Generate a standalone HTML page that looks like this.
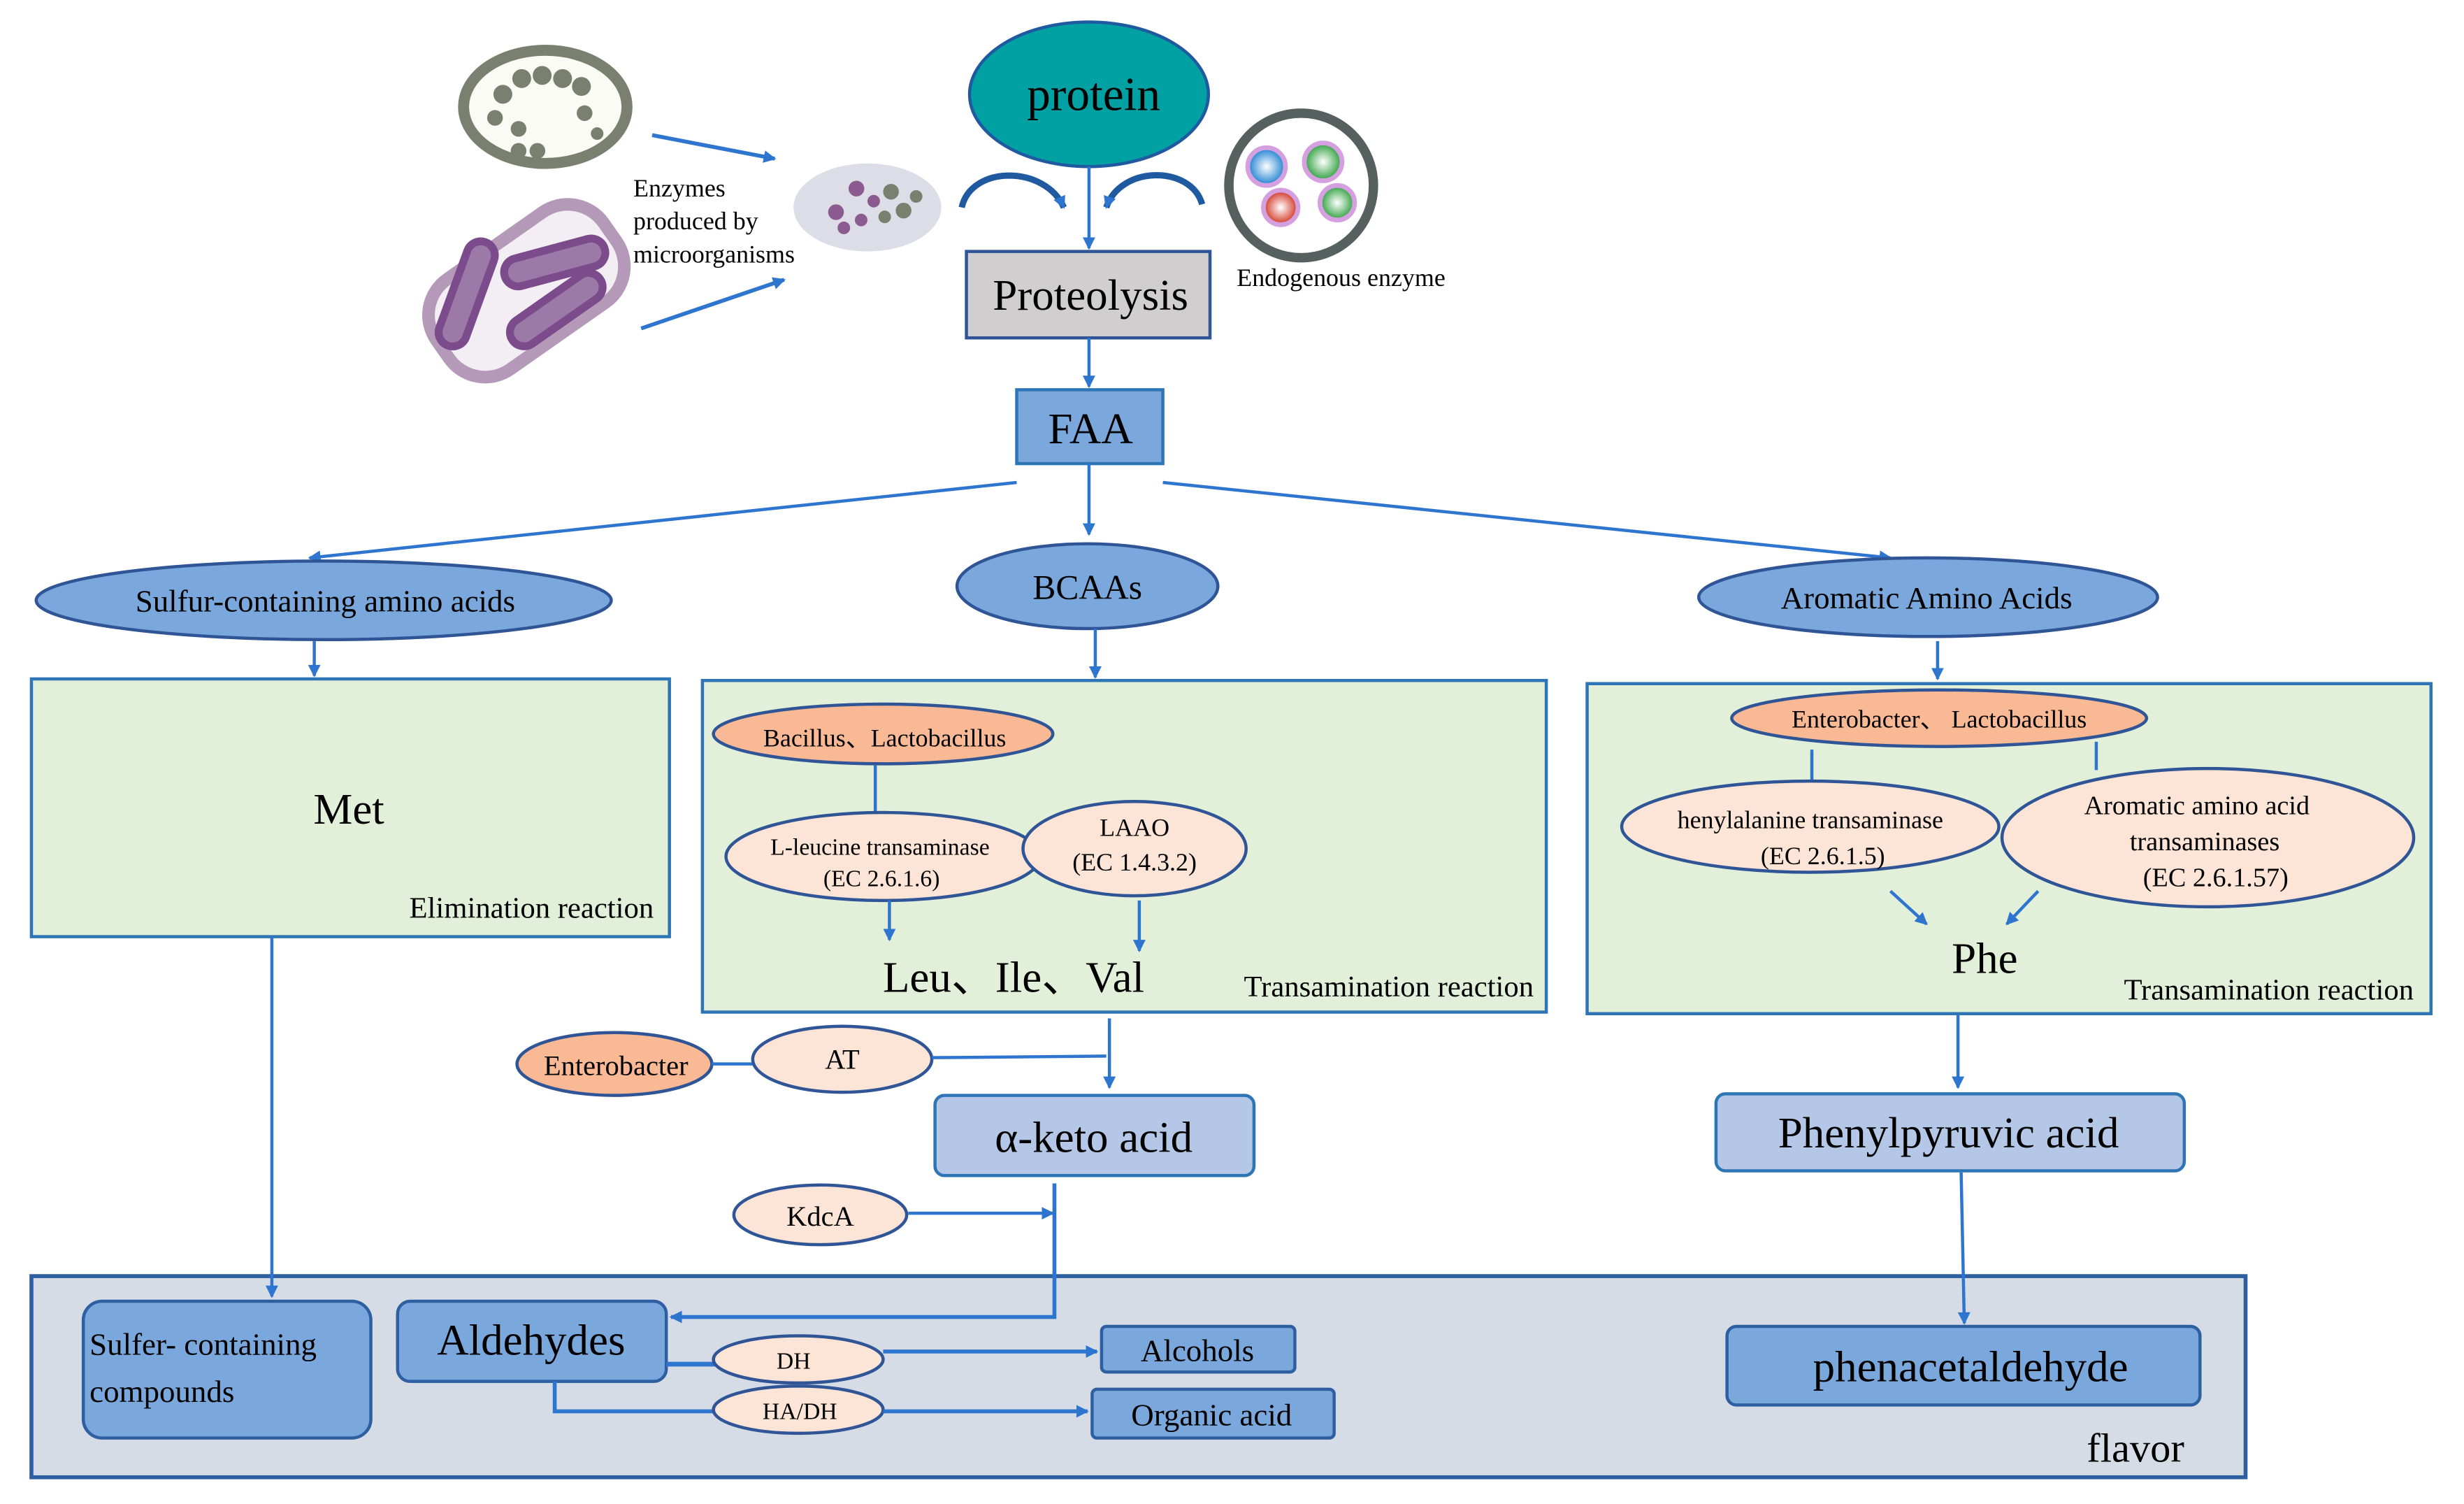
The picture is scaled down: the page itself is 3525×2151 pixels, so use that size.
<!DOCTYPE html>
<html><head><meta charset="utf-8"><style>
html,body{margin:0;padding:0;background:#fff;}
svg{display:block;}
text{font-family:"Liberation Serif",serif;fill:#000;}
</style></head><body>
<svg width="3525" height="2151" viewBox="0 0 1568 957" preserveAspectRatio="none" xmlns="http://www.w3.org/2000/svg">
<defs>
<marker id="a" markerWidth="8" markerHeight="8" refX="7" refY="4" orient="auto" markerUnits="userSpaceOnUse"><path d="M0,0 L8,4 L0,8 z" fill="#2e75cf"/></marker>
<radialGradient id="gb"><stop offset="0" stop-color="#fff"/><stop offset="1" stop-color="#1a7fd0"/></radialGradient>
<radialGradient id="gg"><stop offset="0" stop-color="#fff"/><stop offset="1" stop-color="#2a9d3a"/></radialGradient>
<radialGradient id="gr"><stop offset="0" stop-color="#fff"/><stop offset="1" stop-color="#d0301e"/></radialGradient>
</defs>
<g stroke="#2e75cf" stroke-width="2" fill="none">
<!-- illustrations -->
<ellipse cx="347" cy="68" rx="52" ry="36" stroke="#7a8070" stroke-width="7" fill="#fbfbf6"/>
<g fill="#7a8070" stroke="none"><circle cx="320" cy="60" r="6"/><circle cx="332" cy="50" r="6"/><circle cx="345" cy="48" r="6"/><circle cx="358" cy="50" r="6"/><circle cx="370" cy="55" r="6"/><circle cx="315" cy="75" r="5"/><circle cx="330" cy="82" r="5"/><circle cx="372" cy="72" r="5"/><circle cx="380" cy="85" r="4"/><circle cx="330" cy="96" r="5"/><circle cx="342" cy="96" r="5"/></g>
<rect x="270" y="150" width="130" height="70" rx="28" transform="rotate(-35 335 185)" stroke="#b49ab8" stroke-width="8" fill="#f3eef3"/>
<rect x="262" y="178" width="70" height="18" rx="9" transform="rotate(-70 297 187)" stroke="#7b4b8c" stroke-width="5" fill="#9c7aa8"/>
<rect x="320" y="158" width="66" height="18" rx="9" transform="rotate(-15 353 167)" stroke="#7b4b8c" stroke-width="5" fill="#9c7aa8"/>
<rect x="320" y="188" width="68" height="18" rx="9" transform="rotate(-35 354 197)" stroke="#7b4b8c" stroke-width="5" fill="#9c7aa8"/>
<ellipse cx="552" cy="132" rx="47" ry="28" stroke="none" fill="#dcdde6"/>
<g stroke="none"><circle cx="532" cy="135" r="5" fill="#8b5a8e"/><circle cx="545" cy="120" r="5" fill="#8b5a8e"/><circle cx="537" cy="145" r="4" fill="#8b5a8e"/><circle cx="556" cy="128" r="4" fill="#8b5a8e"/><circle cx="548" cy="140" r="4" fill="#8b5a8e"/><circle cx="567" cy="122" r="5" fill="#7a8070"/><circle cx="575" cy="134" r="5" fill="#7a8070"/><circle cx="583" cy="125" r="4" fill="#7a8070"/><circle cx="563" cy="138" r="4" fill="#7a8070"/></g>
<circle cx="828" cy="118" r="46" stroke="#56605e" stroke-width="6" fill="#fff"/>
<circle cx="806" cy="106" r="12" stroke="#d4a0e0" stroke-width="3" fill="url(#gb)"/>
<circle cx="842" cy="103" r="12" stroke="#d4a0e0" stroke-width="3" fill="url(#gg)"/>
<circle cx="815" cy="132" r="11" stroke="#d4a0e0" stroke-width="3" fill="url(#gr)"/>
<circle cx="851" cy="129" r="11" stroke="#d4a0e0" stroke-width="3" fill="url(#gg)"/>
<path d="M415,86 L493,101" marker-end="url(#a)" stroke-width="2.5"/>
<path d="M408,209 L499,178" marker-end="url(#a)" stroke-width="2.5"/>
<path d="M612,132 C618,105 665,105 677,132" stroke="#1f5aa0" stroke-width="4" marker-end="url(#a)"/>
<path d="M765,130 C758,105 713,105 704,132" stroke="#1f5aa0" stroke-width="4" marker-end="url(#a)"/>
<!-- main -->
<ellipse cx="693" cy="60" rx="76" ry="46" fill="#00a0a3" stroke="#1f5aa0"/>
<path d="M693,106 L693,158" marker-end="url(#a)"/>
<rect x="615" y="160" width="155" height="55" fill="#d0cece" stroke="#2f5597"/>
<path d="M693,215 L693,246" marker-end="url(#a)"/>
<rect x="647" y="248" width="93" height="47" fill="#7aa7dc" stroke="#2e75b6"/>
<path d="M693,295 L693,340" marker-end="url(#a)"/>
<path d="M647,307 L197,355" marker-end="url(#a)"/>
<path d="M740,307 L1203,355" marker-end="url(#a)"/>
<ellipse cx="206" cy="382" rx="183" ry="25" fill="#7aa7dc" stroke="#2f5597"/>
<ellipse cx="692" cy="373" rx="83" ry="27" fill="#7aa7dc" stroke="#2f5597"/>
<ellipse cx="1227" cy="380" rx="146" ry="25" fill="#7aa7dc" stroke="#2f5597"/>
<path d="M200,408 L200,430" marker-end="url(#a)"/>
<path d="M697,400 L697,431" marker-end="url(#a)"/>
<path d="M1233,408 L1233,432" marker-end="url(#a)"/>
<rect x="20" y="432" width="406" height="164" fill="#e2f0d9" stroke="#2e75b6"/>
<rect x="447" y="433" width="537" height="211" fill="#e2f0d9" stroke="#2e75b6"/>
<rect x="1010" y="435" width="537" height="210" fill="#e2f0d9" stroke="#2e75b6"/>
<ellipse cx="562" cy="467" rx="108" ry="19" fill="#f8b994" stroke="#2f5597"/>
<path d="M557,487 L557,517"/>
<ellipse cx="562" cy="545" rx="100" ry="28" fill="#fce4d6" stroke="#2f5597"/>
<ellipse cx="722" cy="540" rx="71" ry="30" fill="#fce4d6" stroke="#2f5597"/>
<path d="M566,573 L566,598" marker-end="url(#a)"/>
<path d="M725,573 L725,605" marker-end="url(#a)"/>
<ellipse cx="1234" cy="457" rx="132" ry="18" fill="#f8b994" stroke="#2f5597"/>
<path d="M1153,477 L1153,497 M1334,472 L1334,490"/>
<ellipse cx="1152" cy="526" rx="120" ry="29" fill="#fce4d6" stroke="#2f5597"/>
<ellipse cx="1405" cy="533" rx="131" ry="44" fill="#fce4d6" stroke="#2f5597"/>
<path d="M1203,567 L1226,588" marker-end="url(#a)"/>
<path d="M1297,567 L1277,588" marker-end="url(#a)"/>
<ellipse cx="391" cy="677" rx="62" ry="20" fill="#f8b994" stroke="#2f5597"/>
<path d="M453,677 L480,677"/>
<ellipse cx="536" cy="674" rx="57" ry="21" fill="#fce4d6" stroke="#2f5597"/>
<path d="M593,673 L704,672"/>
<path d="M706,648 L706,692" marker-end="url(#a)"/>
<rect x="595" y="697" width="203" height="51" rx="6" fill="#b4c7e7" stroke="#2e75b6"/>
<ellipse cx="522" cy="773" rx="55" ry="19" fill="#fce4d6" stroke="#2f5597"/>
<path d="M578,772 L670,772" marker-end="url(#a)"/>
<path d="M1246,646 L1246,692" marker-end="url(#a)"/>
<rect x="1092" y="696" width="298" height="49" rx="6" fill="#b4c7e7" stroke="#2e75b6"/>
<rect x="20" y="812" width="1409" height="128" fill="#d6dce5" stroke="#2e5fa0" stroke-width="2.5"/>
<path d="M671,753 L671,838 L427,838" marker-end="url(#a)" stroke-width="2.5"/>
<path d="M173,596 L173,825" marker-end="url(#a)"/>
<path d="M1248,746 L1250,842" marker-end="url(#a)"/>
<rect x="53" y="828" width="183" height="87" rx="12" fill="#7aa7dc" stroke="#2e5fa0"/>
<rect x="253" y="828" width="171" height="51" rx="8" fill="#7aa7dc" stroke="#2e5fa0"/>
<path d="M424,868 L455,868" stroke-width="3"/>
<ellipse cx="508" cy="865" rx="54" ry="15" fill="#fce4d6" stroke="#2f5597"/>
<path d="M562,860 L698,860" marker-end="url(#a)" stroke-width="2.5"/>
<rect x="701" y="844" width="123" height="29" rx="3" fill="#7aa7dc" stroke="#2e5fa0"/>
<path d="M353,879 L353,898 L455,898" stroke-width="2.5"/>
<ellipse cx="508" cy="897" rx="54" ry="15" fill="#fce4d6" stroke="#2f5597"/>
<path d="M562,898 L692,898" marker-end="url(#a)" stroke-width="2.5"/>
<rect x="695" y="884" width="154" height="31" rx="3" fill="#7aa7dc" stroke="#2e5fa0"/>
<rect x="1099" y="844" width="301" height="50" rx="6" fill="#7aa7dc" stroke="#2e5fa0"/>
</g>
<g text-anchor="middle">
<text x="696" y="70" font-size="30">protein</text>
<text x="694" y="197" font-size="28">Proteolysis</text>
<text x="694" y="282" font-size="28">FAA</text>
<text x="207" y="389" font-size="20">Sulfur-containing  amino acids</text>
<text x="692" y="381" font-size="22">BCAAs</text>
<text x="1226" y="387" font-size="20">Aromatic  Amino Acids</text>
<text x="222" y="524" font-size="28">Met</text>
<text x="563" y="475" font-size="16">Bacillus、Lactobacillus</text>
<text x="560" y="544" font-size="15">L-leucine transaminase</text>
<text x="561" y="564" font-size="15">(EC 2.6.1.6)</text>
<text x="722" y="532" font-size="16">LAAO</text>
<text x="722" y="554" font-size="16">(EC 1.4.3.2)</text>
<text x="645" y="631" font-size="28">Leu、Ile、Val</text>
<text x="1234" y="463" font-size="16">Enterobacter、 Lactobacillus</text>
<text x="1152" y="527" font-size="16">henylalanine transaminase</text>
<text x="1160" y="550" font-size="16">(EC 2.6.1.5)</text>
<text x="1398" y="518" font-size="17">Aromatic amino acid</text>
<text x="1403" y="541" font-size="17">transaminases</text>
<text x="1410" y="564" font-size="17">(EC 2.6.1.57)</text>
<text x="1263" y="619" font-size="28">Phe</text>
<text x="392" y="684" font-size="18">Enterobacter</text>
<text x="536" y="680" font-size="18">AT</text>
<text x="696" y="733" font-size="28">α-keto acid</text>
<text x="522" y="780" font-size="18">KdcA</text>
<text x="1240" y="730" font-size="28">Phenylpyruvic acid</text>
<text x="338" y="862" font-size="28">Aldehydes</text>
<text x="505" y="871" font-size="15">DH</text>
<text x="509" y="903" font-size="15">HA/DH</text>
<text x="762" y="866" font-size="20">Alcohols</text>
<text x="771" y="907" font-size="20">Organic  acid</text>
<text x="1254" y="879" font-size="28">phenacetaldehyde</text>
</g>
<text x="416" y="584" font-size="19" text-anchor="end">Elimination reaction</text>
<text x="976" y="634" font-size="19" text-anchor="end">Transamination reaction</text>
<text x="1536" y="636" font-size="19" text-anchor="end">Transamination reaction</text>
<text x="1390" y="930" font-size="26" text-anchor="end">flavor</text>
<text x="57" y="862" font-size="20">Sulfer- containing</text>
<text x="57" y="892" font-size="20">compounds</text>
<text x="403" y="125" font-size="16">Enzymes</text>
<text x="403" y="146" font-size="16">produced by</text>
<text x="403" y="167" font-size="16">microorganisms</text>
<text x="787" y="182" font-size="16">Endogenous enzyme</text>
</svg>
</body></html>
